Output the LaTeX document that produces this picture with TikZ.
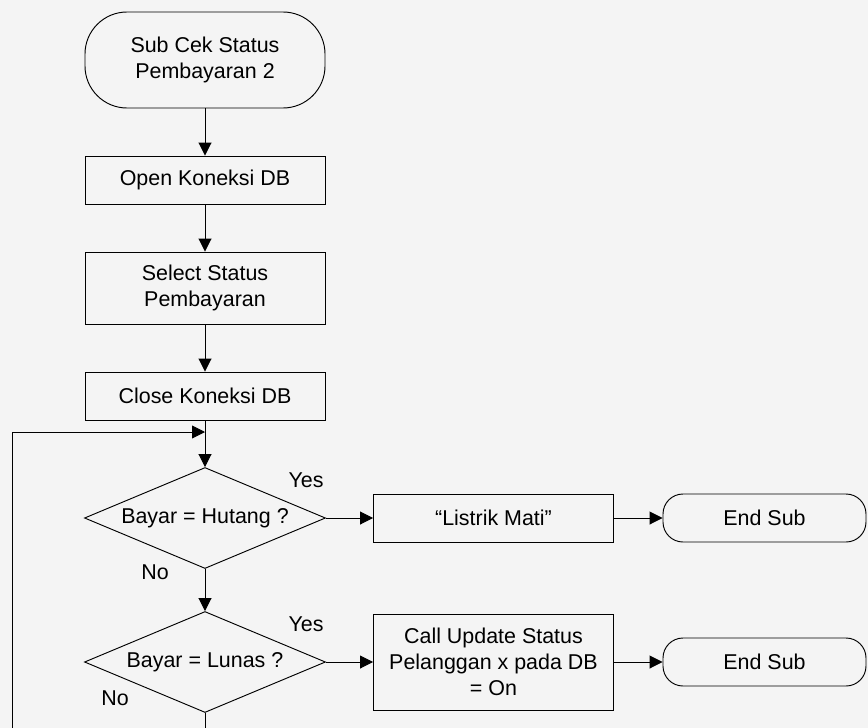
\documentclass[tikz,border=0pt]{standalone}
\usepackage{fontspec}
\setmainfont{Liberation Sans}
\usetikzlibrary{shapes.geometric,arrows.meta}
\definecolor{latar}{RGB}{244,244,244}

\begin{document}
\begin{tikzpicture}[x=0.03cm,y=-0.03cm,line width=0.8pt,
  font=\fontsize{18.3}{22}\selectfont,
  arr/.style={-{Triangle[length=0.39cm,width=0.39cm]}},
  proses/.style={draw,rectangle,minimum width=7.2cm,align=center,inner sep=0pt},
  term/.style={draw,rectangle,align=center,inner sep=0pt},
  cabang/.style={draw,diamond,aspect=2.4,minimum width=7.23cm,minimum height=3.03cm,inner sep=1pt}]
                \fill[latar](0,0)rectangle(868,728);
                \useasboundingbox(0,0)rectangle(868,728);
                % urutan utama
                \node[term,rounded corners=1.26cm,minimum width=7.2cm,minimum height=2.88cm](mulai)at(205,60){Sub Cek Status\\Pembayaran 2};
                \node[proses,minimum height=1.44cm](buka)at(205,180){Open Koneksi DB};
                \node[proses,minimum height=2.16cm](pilih)at(205,288){Select Status\\Pembayaran};
                \node[proses,minimum height=1.44cm](tutup)at(205,396){Close Koneksi DB};
                \node[cabang](hutang)at(205,518){Bayar = Hutang ?};
                \node[cabang](lunas)at(205,662){Bayar = Lunas ?};
                % cabang kanan
                \node[proses,minimum height=1.44cm](mati)at(493.5,518){“Listrik Mati”};
                \node[proses,minimum height=2.88cm](update)at(493.5,662){Call Update Status\\Pelanggan x pada DB\\= On};
                \foreach \y [count=\i] in {518,662}
                \node[term,rounded corners=0.6cm,minimum width=6.09cm,minimum height=1.44cm](akhir\i)at(764.5,\y){End Sub};
                \node(ya1)at(306,480){Yes};
                \node(no1)at(155,572){No};
                \node(ya2)at(306,624){Yes};
                \node(no2)at(115,698){No};
                \coordinate(gabung)at(205,432);
                \coordinate(bawah)at(205,728);
                \coordinate(kiri)at(12,728);
                \draw[arr](mulai)--(buka);
                \draw[arr](buka)--(pilih);
                \draw[arr](pilih)--(tutup);
                \draw[arr](tutup)--(hutang);
                \draw[arr](hutang)--(lunas);
                \draw[arr](hutang)--(mati);
                \draw[arr](mati)--(akhir1);
                \draw[arr](lunas)--(update);
                \draw[arr](update)--(akhir2);
                \draw(lunas)--(bawah);
                \draw[arr](kiri)|-(gabung);%loop
                \end{tikzpicture}
\end{document}
